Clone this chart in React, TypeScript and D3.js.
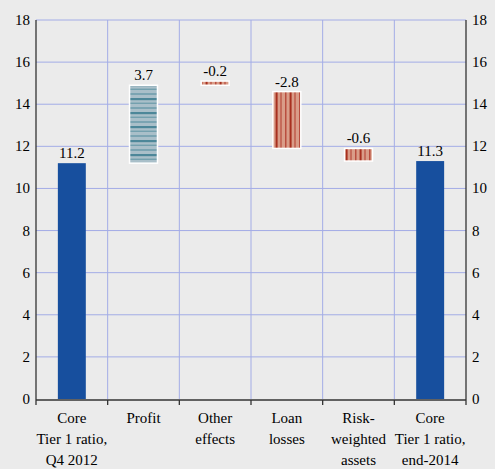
import React from 'react'
import * as d3 from 'd3'

// categories (multi-line labels) and bar extents
const categories = [
  ['Core', 'Tier 1 ratio,', 'Q4 2012'],
  ['Profit'],
  ['Other', 'effects'],
  ['Loan', 'losses'],
  ['Risk-', 'weighted', 'assets'],
  ['Core', 'Tier 1 ratio,', 'end-2014'],
]
const valueLabels = ['11.2', '3.7', '-0.2', '-2.8', '-0.6', '11.3']
const barFrom = [0, 11.2, 14.9, 14.6, 11.9, 0]
const barTo = [11.2, 14.9, 15.1, 11.9, 11.3, 11.3]
const barKind = ['total', 'up', 'down', 'down', 'down', 'total']
const yTicks = [0, 2, 4, 6, 8, 10, 12, 14, 16, 18]

const W = 495
const H = 469
const margin = { top: 20, right: 29, bottom: 70, left: 36 }
// serif face only comes out reliably at small sizes in this browser
const ff = 'Liberation Serif'
const fs = 15

export default function App() {
  const innerW = W - margin.left - margin.right
  const innerH = H - margin.top - margin.bottom

  const x = d3.scaleBand<number>()
    .domain(d3.range(categories.length))
    .range([0, innerW])
    .paddingInner(0)
    .paddingOuter(0)
  const y = d3.scaleLinear().domain([0, 18]).range([innerH, 0])

  const barW = x.bandwidth() * 0.39
  const fillFor = (k: string) =>
    k === 'total' ? '#174f9e' : k === 'up' ? 'url(#hstripe)' : 'url(#vstripe)'

  return (
    <svg width={W} height={H} style={{ position: 'absolute', left: 0, top: 0, background: '#ebebeb' }}>
      <defs>
        <pattern id="hstripe" patternUnits="userSpaceOnUse" width="10" height="14">
          <rect width="10" height="14" fill="#a9bfc9" />
          <rect y="0" width="10" height="2.2" fill="#4d8799" />
          <rect y="4.7" width="10" height="1" fill="#5d93a3" />
          <rect y="9.4" width="10" height="1.2" fill="#5d93a3" />
        </pattern>
        <pattern id="vstripe" patternUnits="userSpaceOnUse" width="14" height="10">
          <rect width="14" height="10" fill="#d99c88" />
          <rect x="0.5" width="1" height="10" fill="#b13a2c" />
          <rect x="5.2" width="1.2" height="10" fill="#b13a2c" />
          <rect x="9.6" width="2" height="10" fill="#a8301f" />
        </pattern>
      </defs>
      <rect width={W} height={H} fill="#ebebeb" />

      {/* grid */}
      {yTicks.filter(t => t > 0).map(t => (
        <line key={'gy' + t} x1={margin.left} x2={margin.left + innerW}
          y1={margin.top + y(t)} y2={margin.top + y(t)} stroke="#a3ace6" strokeWidth={1} />
      ))}
      {d3.range(1, categories.length).map(i => (
        <line key={'gx' + i} x1={margin.left + x(i)!} x2={margin.left + x(i)!}
          y1={margin.top} y2={margin.top + innerH} stroke="#a3ace6" strokeWidth={1} />
      ))}

      {/* bars */}
      {categories.map((_, i) => {
        const top = margin.top + y(Math.max(barFrom[i], barTo[i]))
        const bot = margin.top + y(Math.min(barFrom[i], barTo[i]))
        const cx = margin.left + x(i)! + x.bandwidth() / 2
        const isTotal = barKind[i] === 'total'
        return (
          <rect key={'b' + i} x={cx - barW / 2} y={top} width={barW} height={bot - top}
            fill={fillFor(barKind[i])}
            stroke={isTotal ? 'none' : '#ffffff'} strokeWidth={isTotal ? 0 : 1.5} />
        )
      })}
      {categories.map((_, i) => (
        <text key={'v' + i} x={margin.left + x(i)! + x.bandwidth() / 2}
          y={margin.top + y(Math.max(barFrom[i], barTo[i])) - 5}
          textAnchor="middle" fontSize={fs} fontFamily={ff}>
          {valueLabels[i]}
        </text>
      ))}

      {/* axes */}
      <line x1={margin.left} x2={margin.left} y1={margin.top} y2={margin.top + innerH + 6} stroke="#333" strokeWidth={1.3} />
      <line x1={margin.left + innerW} x2={margin.left + innerW} y1={margin.top} y2={margin.top + innerH + 6} stroke="#333" strokeWidth={1.3} />
      <line x1={margin.left} x2={margin.left + innerW} y1={margin.top + innerH + 1} y2={margin.top + innerH + 1} stroke="#333" strokeWidth={1.3} />
      {d3.range(1, categories.length).map(i => (
        <line key={'tx' + i} x1={margin.left + x(i)!} x2={margin.left + x(i)!}
          y1={margin.top + innerH + 1} y2={margin.top + innerH + 6} stroke="#333" strokeWidth={1.3} />
      ))}
      {yTicks.map(t => (
        <text key={'yl' + t} x={margin.left - 6} y={margin.top + y(t) + 5}
          textAnchor="end" fontSize={fs} fontFamily={ff}>{t}</text>
      ))}
      {yTicks.map(t => (
        <text key={'yr' + t} x={margin.left + innerW + 6} y={margin.top + y(t) + 5}
          textAnchor="start" fontSize={fs} fontFamily={ff}>{t}</text>
      ))}

      {/* category labels, one text per line */}
      {categories.map((lines, i) =>
        lines.map((l, j) => (
          <text key={'c' + i + '-' + j} x={margin.left + x(i)! + x.bandwidth() / 2}
            y={margin.top + innerH + 24 + j * 21}
            textAnchor="middle" fontSize={fs} fontFamily={ff}>{l}</text>
        ))
      )}
    </svg>
  )
}
